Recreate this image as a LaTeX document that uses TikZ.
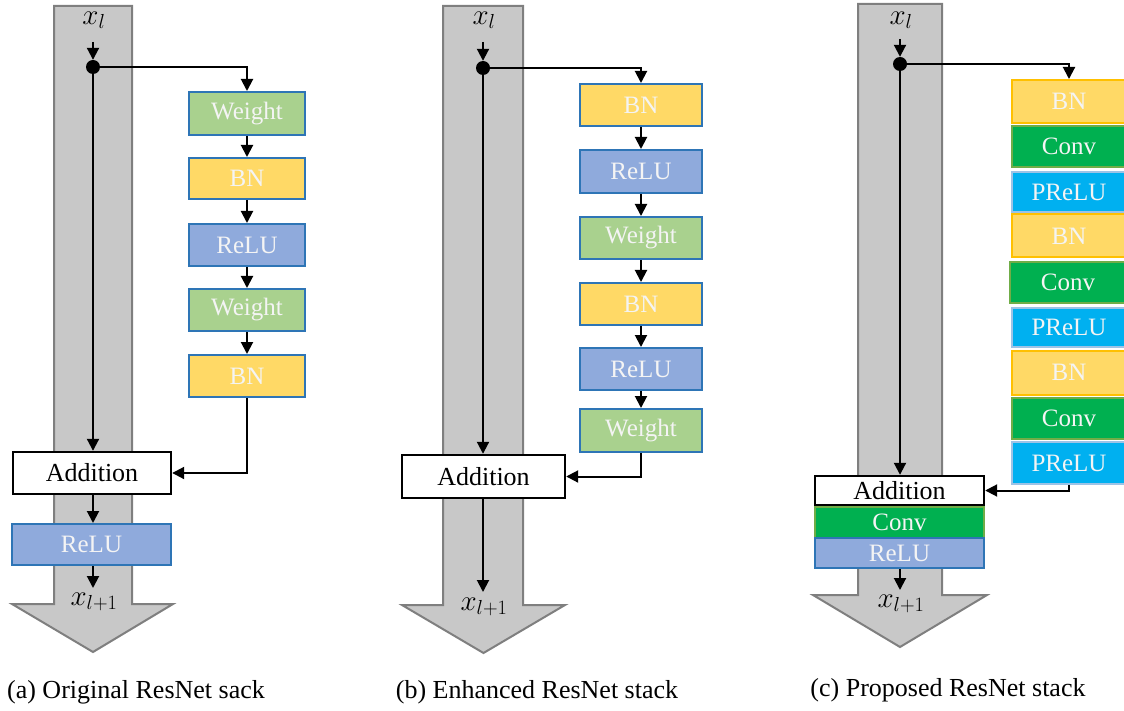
\RequirePackage{fix-cm}
\documentclass[tikz,border=0pt]{standalone}
\usepackage{fontspec}
\setmainfont{Liberation Serif}
\usetikzlibrary{arrows.meta}

\definecolor{shaftfill}{HTML}{C8C8C8}
\definecolor{shaftline}{HTML}{7F7F7F}
\definecolor{wgtfill}{HTML}{A9D18E}
\definecolor{bnfill}{HTML}{FFD966}
\definecolor{relufill}{HTML}{8FAADC}
\definecolor{blueline}{HTML}{2E75B6}
\definecolor{bnline}{HTML}{FFC000}
\definecolor{convfill}{HTML}{00B050}
\definecolor{convline}{HTML}{70AD47}
\definecolor{prelufill}{HTML}{00B0F0}
\definecolor{preluline}{HTML}{9DC3E6}
\definecolor{boxtext}{HTML}{F4F4F4}

\tikzset{
  big/.style={font=\fontsize{26}{30}\selectfont},
  mid/.style={font=\fontsize{25}{29}\selectfont},
  shaft/.style={fill=shaftfill, draw=shaftline, line width=2pt},
  layer/.style={mid, draw, line width=2pt, inner sep=0pt, text=boxtext},
  wgt/.style={layer, fill=wgtfill, draw=blueline},
  bn/.style={layer, fill=bnfill, draw=blueline},
  relu/.style={layer, fill=relufill, draw=blueline},
  bnc/.style={layer, fill=bnfill, draw=bnline},
  conv/.style={layer, fill=convfill, draw=convline},
  prelu/.style={layer, fill=prelufill, draw=preluline},
  addbox/.style={big, draw=black, fill=white, line width=2.4pt, inner sep=0pt},
  junction/.style={circle, fill=black, inner sep=0pt, minimum size=14pt},
  arr/.style={line width=2pt, -{Triangle[length=12pt,width=12pt]}},
  lbl/.style={big, inner sep=0pt},
  var/.style={font=\fontsize{29}{33}\selectfont, inner sep=0pt},
}

\begin{document}
\begin{tikzpicture}[x=1pt, y=-1pt]
\useasboundingbox (0,0) rectangle (1124,711);

% ---------- (a) original block ----------
\draw[shaft] (54,6) -- (132,6) -- (132,604) -- (173,604) -- (93,652)
  -- (12,604) -- (54,604) -- cycle;
\node[var] (xa) at (94,20) {$x_l$};
\coordinate (sa) at (93,42);
\node[junction] (da) at (93,67) {};
\node[wgt, minimum width=116pt, minimum height=43pt] (wa1) at (247,113.5) {Weight};
\node[bn, minimum width=116pt, minimum height=41pt] (ba1) at (247,178.5) {BN};
\node[relu, minimum width=116pt, minimum height=42pt] (ra1) at (247,245) {ReLU};
\node[wgt, minimum width=116pt, minimum height=42pt] (wa2) at (247,310) {Weight};
\node[bn, minimum width=116pt, minimum height=42pt] (ba2) at (247,376) {BN};
\node[addbox, minimum width=158pt, minimum height=42pt] (adda) at (92,473) {Addition};
\node[relu, minimum width=159pt, minimum height=41pt] (rao) at (91.5,544.5) {ReLU};
\coordinate (oa) at (93,588);
\node[var] (ya) at (94,602) {$x_{l+1}$};
\node[lbl] (capa) at (136,692) {(a) Original ResNet sack};

\draw[arr] (sa) -- (da);
\draw[arr] (da.center) -| (wa1.north);
\draw[arr] (wa1) -- (ba1);
\draw[arr] (ba1) -- (ra1);
\draw[arr] (ra1) -- (wa2);
\draw[arr] (wa2) -- (ba2);
\draw[arr] (ba2.south) |- (adda.east);
\draw[arr] (da.center) -- (da |- adda.north);
\draw[arr] (adda.south -| da) -- (rao.north -| da);
\draw[arr] (rao.south -| da) -- (oa);

% ---------- (b) enhanced block ----------
\draw[shaft] (443,6) -- (523,6) -- (523,605) -- (565,605) -- (483.5,653)
  -- (402,605) -- (443,605) -- cycle;
\node[var] (xb) at (484,20) {$x_l$};
\coordinate (sb) at (483,42);
\node[junction] (db) at (483,68) {};
\node[bn, minimum width=122pt, minimum height=42pt] (bb1) at (641,105) {BN};
\node[relu, minimum width=122pt, minimum height=43pt] (rb1) at (641,171.5) {ReLU};
\node[wgt, minimum width=122pt, minimum height=42pt] (wb1) at (641,238) {Weight};
\node[bn, minimum width=122pt, minimum height=42pt] (bb2) at (641,304) {BN};
\node[relu, minimum width=122pt, minimum height=42pt] (rb2) at (641,369) {ReLU};
\node[wgt, minimum width=122pt, minimum height=43pt] (wb2) at (641,430.5) {Weight};
\node[addbox, minimum width=163pt, minimum height=43pt] (addb) at (483.5,476.5) {Addition};
\coordinate (ob) at (483,592);
\node[var] (yb) at (484,607) {$x_{l+1}$};
\node[lbl] (capb) at (537,692) {(b) Enhanced ResNet stack};

\draw[arr] (sb) -- (db);
\draw[arr] (db.center) -| (bb1.north);
\draw[arr] (bb1) -- (rb1);
\draw[arr] (rb1) -- (wb1);
\draw[arr] (wb1) -- (bb2);
\draw[arr] (bb2) -- (rb2);
\draw[arr] (rb2) -- (wb2);
\draw[arr] (wb2.south) |- (addb.east);
\draw[arr] (db.center) -- (db |- addb.north);
\draw[arr] (addb.south -| db) -- (ob);

% ---------- (c) proposed block ----------
\draw[shaft] (858,4) -- (942,4) -- (942,595) -- (987,595) -- (900,647)
  -- (813,595) -- (858,595) -- cycle;
\node[var] (xc) at (901,20) {$x_l$};
\coordinate (sc) at (900,39);
\node[junction] (dc) at (900,64) {};
\node[bnc, minimum width=114pt, minimum height=43pt] (bc1) at (1069,101.5) {BN};
\node[conv, minimum width=114pt, minimum height=41pt] (cc1) at (1069,146.5) {Conv};
\node[prelu, minimum width=114pt, minimum height=40pt] (pc1) at (1069,192) {PReLU};
\node[bnc, minimum width=114pt, minimum height=43pt] (bc2) at (1069,236) {BN};
\node[conv, minimum width=116pt, minimum height=41pt] (cc2) at (1068,282.5) {Conv};
\node[prelu, minimum width=114pt, minimum height=39pt] (pc2) at (1069,327.5) {PReLU};
\node[bnc, minimum width=114pt, minimum height=44pt] (bc3) at (1069,372.5) {BN};
\node[conv, minimum width=114pt, minimum height=41pt] (cc3) at (1069,418.5) {Conv};
\node[prelu, minimum width=114pt, minimum height=42pt] (pc3) at (1069,463) {PReLU};
\node[addbox, minimum width=169pt, minimum height=29pt] (addc) at (899.5,490.5) {Addition};
\node[conv, minimum width=169pt, minimum height=31pt] (cco) at (899.5,522.5) {Conv};
\node[relu, minimum width=169pt, minimum height=30pt] (rco) at (899.5,553) {ReLU};
\coordinate (oc) at (900,590);
\node[var] (yc) at (901,604) {$x_{l+1}$};
\node[lbl] (capc) at (948,690) {(c) Proposed ResNet stack};

\draw[arr] (sc) -- (dc);
\draw[arr] (dc.center) -| (bc1.north);
\draw[arr] (pc3.south) |- (addc.east);
\draw[arr] (dc.center) -- (dc |- addc.north);
\draw[arr] (rco.south -| dc) -- (oc);
\end{tikzpicture}
\end{document}
